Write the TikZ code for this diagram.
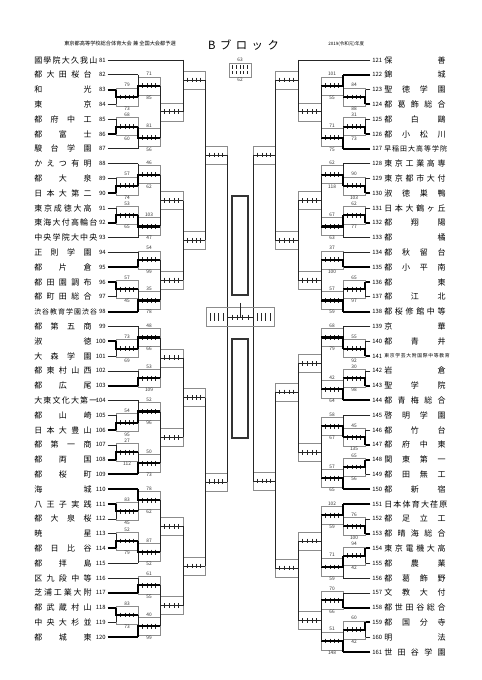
\documentclass[tikz,border=0pt]{standalone}
\usepackage{fontspec}
\setmainfont{Noto Sans CJK JP}
\pgfmathdeclarefunction{rowl}{1}{\pgfmathparse{60+(#1-81)*14.8}}
\pgfmathdeclarefunction{rowr}{1}{\pgfmathparse{60+(#1-121)*14.8}}
\tikzset{
  line/.style={draw=black!85, line width=0.45pt},
  frame/.style={draw=black!45, line width=0.4pt},
  win/.style={draw=black, line width=1.6pt},
  lab/.style={font=\fontsize{3.6}{4}\selectfont, inner sep=0.5pt, text=black!80},
  num/.style={font=\fontsize{4.4}{5}\selectfont, inner sep=0pt},
  tname/.style={inner sep=0pt},
}
\newcounter{nn}
\def\nextmid{}
\newcommand\setmid[1]{\gdef\nextmid{#1}}
\newcommand\M[1]{\csname ym@#1\endcsname}
\newcommand\mtch[8]{%
  \pgfmathsetmacro\tya{#4}%
  \pgfmathsetmacro\tyb{#5}%
  \ifx\nextmid\empty\pgfmathsetmacro\tym{(\tya+\tyb)/2}\else\pgfmathsetmacro\tym{\nextmid}\fi
  \gdef\nextmid{}%
  \expandafter\xdef\csname ym@#1\endcsname{\tym}%
  \draw[frame] (#2,\tym-9) rectangle (#3,\tym+9);
  \draw[line] (#2,\tya) -- (#2,\tyb);
  \draw[line] (#2,\tym) -- (#3,\tym);
  \foreach \k in {1,2,3,4}{\draw[line] ({#2+\k*(#3-#2)/5},\tym-2.4) -- ({#2+\k*(#3-#2)/5},\tym+2.4);}
  \ifcase#6\relax\or\draw[win] (#2,\tya) -- (#2,\tym) -- (#3,\tym);\or\draw[win] (#2,\tyb) -- (#2,\tym) -- (#3,\tym);\fi
  \stepcounter{nn}\node[lab,anchor=south] (n\arabic{nn}) at ({(#2+#3)/2},\tym-9) {#7};
  \stepcounter{nn}\node[lab,anchor=north] (n\arabic{nn}) at ({(#2+#3)/2},\tym+9) {#8};
}
\newcommand\teamL[5]{%
  \pgfmathsetmacro\ty{rowl(#1)}%
  \node[tname,anchor=west,font=\fontsize{#5}{#5}\selectfont] (tL#1) at (34,\ty) {\makebox[43pt][s]{#2}};
  \node[num,anchor=east] (nL#1) at (106,\ty) {#1};
  \ifnum#4=1 \draw[win] ([xshift=1.2pt]nL#1.east) -- (#3,\ty);\else\draw[line] ([xshift=1.2pt]nL#1.east) -- (#3,\ty);\fi
}
\newcommand\teamR[5]{%
  \pgfmathsetmacro\ty{rowr(#1)}%
  \node[tname,anchor=west,font=\fontsize{#5}{#5}\selectfont] (tR#1) at (384,\ty) {\makebox[46pt][s]{#2}};
  \node[num,anchor=west] (nR#1) at (372,\ty) {#1};
  \ifnum#4=1 \draw[win] ([xshift=-1.2pt]nR#1.west) -- (#3,\ty);\else\draw[line] ([xshift=-1.2pt]nR#1.west) -- (#3,\ty);\fi
}
\begin{document}
\begin{tikzpicture}[x=0.75pt,y=-0.75pt]
\fill[white] (0,0) rectangle (481,680);
\useasboundingbox (0,0) rectangle (481,680);
% header
\node[font=\fontsize{3.9}{4.5}\selectfont, anchor=west, inner sep=0pt] (h1) at (64,44) {東京都高等学校総合体育大会 兼 全国大会都予選};
\node[font=\fontsize{8.5}{9}\selectfont, inner sep=0pt] (h2) at (243.5,45) {\makebox[53pt][s]{B ブ ロ ッ ク}};
\node[font=\fontsize{3.4}{4}\selectfont, anchor=west, inner sep=0pt] (h3) at (328,44) {2019(令和元)年度};
% legend
\draw[frame] (229,63) rectangle (251,77);
\foreach \k in {1,...,5}{\draw[line] ({229+\k*22/6},65.5) -- ({229+\k*22/6},69); \draw[line] ({229+\k*22/6},71) -- ({229+\k*22/6},74.5);}
\node[lab,anchor=south] (lg1) at (240,63) {63};
\node[lab,anchor=north] (lg2) at (240,77) {62};
% left teams
\teamL{81}{國 學 院 大 久 我 山}{183}{0}{6}
\teamL{82}{都 大 田 桜 台}{138}{0}{6}
\teamL{83}{和 光}{116}{1}{6}
\teamL{84}{東 京}{116}{0}{6}
\teamL{85}{都 府 中 工}{116}{0}{6}
\teamL{86}{都 富 士}{116}{1}{6}
\teamL{87}{駿 台 学 園}{138}{0}{6}
\teamL{88}{か え つ 有 明}{138}{0}{6}
\teamL{89}{都 大 泉}{116}{0}{6}
\teamL{90}{日 本 大 第 二}{116}{1}{6}
\teamL{91}{東 京 成 徳 大 高}{116}{0}{6}
\teamL{92}{東 海 大 付 高 輪 台}{116}{1}{6}
\teamL{93}{中 央 学 院 大 中 央}{138}{0}{6}
\teamL{94}{正 則 学 園}{138}{0}{6}
\teamL{95}{都 片 倉}{138}{1}{6}
\teamL{96}{都 田 園 調 布}{116}{1}{6}
\teamL{97}{都 町 田 総 合}{116}{0}{6}
\teamL{98}{渋 谷 教 育 学 園 渋 谷}{138}{1}{5.2}
\teamL{99}{都 第 五 商}{138}{0}{6}
\teamL{100}{淑 徳}{116}{1}{6}
\teamL{101}{大 森 学 園}{116}{0}{6}
\teamL{102}{都 東 村 山 西}{138}{0}{6}
\teamL{103}{都 広 尾}{138}{1}{6}
\teamL{104}{大 東 文 化 大 第 一}{138}{0}{6}
\teamL{105}{都 山 崎}{116}{0}{6}
\teamL{106}{日 本 大 豊 山}{116}{1}{6}
\teamL{107}{都 第 一 商}{116}{0}{6}
\teamL{108}{都 両 国}{116}{1}{6}
\teamL{109}{都 桜 町}{138}{1}{6}
\teamL{110}{海 城}{138}{1}{6}
\teamL{111}{八 王 子 実 践}{116}{1}{6}
\teamL{112}{都 大 泉 桜}{116}{0}{6}
\teamL{113}{暁 星}{116}{0}{6}
\teamL{114}{都 日 比 谷}{116}{1}{6}
\teamL{115}{都 拝 島}{138}{0}{6}
\teamL{116}{区 九 段 中 等}{138}{0}{6}
\teamL{117}{芝 浦 工 業 大 附}{138}{1}{6}
\teamL{118}{都 武 蔵 村 山}{116}{1}{6}
\teamL{119}{中 央 大 杉 並}{116}{0}{6}
\teamL{120}{都 城 東}{138}{1}{6}
% right teams
\teamR{121}{保 善}{298}{0}{6}
\teamR{122}{錦 城}{343}{1}{6}
\teamR{123}{聖 徳 学 園}{365}{0}{6}
\teamR{124}{都 葛 飾 総 合}{365}{1}{6}
\teamR{125}{都 白 鷗}{365}{0}{6}
\teamR{126}{都 小 松 川}{365}{1}{6}
\teamR{127}{早 稲 田 大 高 等 学 院}{343}{1}{5.2}
\teamR{128}{東 京 工 業 高 専}{343}{0}{6}
\teamR{129}{東 京 都 市 大 付}{365}{0}{6}
\teamR{130}{淑 徳 巣 鴨}{365}{1}{6}
\teamR{131}{日 本 大 鶴 ヶ 丘}{365}{0}{6}
\teamR{132}{都 翔 陽}{365}{1}{6}
\teamR{133}{都 橘}{343}{0}{6}
\teamR{134}{都 秋 留 台}{343}{0}{6}
\teamR{135}{都 小 平 南}{343}{1}{6}
\teamR{136}{都 東}{365}{1}{6}
\teamR{137}{都 江 北}{365}{0}{6}
\teamR{138}{都 桜 修 館 中 等}{343}{1}{6}
\teamR{139}{京 華}{343}{0}{6}
\teamR{140}{都 青 井}{365}{0}{6}
\teamR{141}{東 京 学 芸 大 附 国 際 中 等 教 育}{365}{1}{3.6}
\teamR{142}{岩 倉}{365}{0}{6}
\teamR{143}{聖 学 院}{365}{1}{6}
\teamR{144}{都 青 梅 総 合}{343}{1}{6}
\teamR{145}{啓 明 学 園}{343}{0}{6}
\teamR{146}{都 竹 台}{365}{0}{6}
\teamR{147}{都 府 中 東}{365}{1}{6}
\teamR{148}{関 東 第 一}{365}{1}{6}
\teamR{149}{都 田 無 工}{365}{0}{6}
\teamR{150}{都 新 宿}{343}{1}{6}
\teamR{151}{日 本 体 育 大 荏 原}{343}{1}{6}
\teamR{152}{都 足 立 工}{365}{0}{6}
\teamR{153}{都 晴 海 総 合}{365}{1}{6}
\teamR{154}{東 京 電 機 大 高}{365}{1}{6}
\teamR{155}{都 農 業}{365}{0}{6}
\teamR{156}{都 葛 飾 野}{343}{0}{6}
\teamR{157}{文 教 大 付}{343}{0}{6}
\teamR{158}{都 世 田 谷 総 合}{343}{1}{6}
\teamR{159}{都 国 分 寺}{365}{1}{6}
\teamR{160}{明 法}{365}{0}{6}
\teamR{161}{世 田 谷 学 園}{343}{1}{6}
% left matches
\mtch{la1}{116}{138}{rowl(83)}{rowl(84)}{1}{79}{73}
\mtch{lb1}{138}{160}{rowl(82)}{\M{la1}}{2}{71}{85}
\mtch{la2}{116}{138}{rowl(85)}{rowl(86)}{2}{68}{60}
\mtch{lb2}{138}{160}{\M{la2}}{rowl(87)}{1}{81}{56}
\mtch{lc1}{160}{183}{\M{lb1}}{\M{lb2}}{0}{}{}
\setmid{80}
\mtch{ld1}{183}{205}{rowl(81)}{\M{lc1}}{0}{}{}
\mtch{la3}{116}{138}{rowl(89)}{rowl(90)}{2}{57}{74}
\mtch{lb3}{138}{160}{rowl(88)}{\M{la3}}{2}{46}{62}
\mtch{la4}{116}{138}{rowl(91)}{rowl(92)}{2}{53}{65}
\mtch{lb4}{138}{160}{\M{la4}}{rowl(93)}{1}{103}{47}
\mtch{lc2}{160}{183}{\M{lb3}}{\M{lb4}}{0}{}{}
\mtch{lb5}{138}{160}{rowl(94)}{rowl(95)}{2}{54}{99}
\mtch{la6}{116}{138}{rowl(96)}{rowl(97)}{1}{57}{45}
\mtch{lb6}{138}{160}{\M{la6}}{rowl(98)}{2}{35}{78}
\mtch{lc3}{160}{183}{\M{lb5}}{\M{lb6}}{0}{}{}
\mtch{ld2}{183}{205}{\M{lc2}}{\M{lc3}}{0}{}{}
\setmid{155}
\mtch{le1}{205}{227}{\M{ld1}}{\M{ld2}}{0}{}{}
\mtch{la7}{116}{138}{rowl(100)}{rowl(101)}{1}{73}{69}
\mtch{lb7}{138}{160}{rowl(99)}{\M{la7}}{2}{48}{66}
\mtch{lb8}{138}{160}{rowl(102)}{rowl(103)}{2}{53}{109}
\mtch{lc4}{160}{183}{\M{lb7}}{\M{lb8}}{0}{}{}
\mtch{la9}{116}{138}{rowl(105)}{rowl(106)}{2}{54}{95}
\mtch{lb9}{138}{160}{rowl(104)}{\M{la9}}{2}{52}{96}
\mtch{la10}{116}{138}{rowl(107)}{rowl(108)}{2}{27}{112}
\mtch{lb10}{138}{160}{\M{la10}}{rowl(109)}{2}{50}{73}
\mtch{lc5}{160}{183}{\M{lb9}}{\M{lb10}}{0}{}{}
\mtch{ld3}{183}{205}{\M{lc4}}{\M{lc5}}{0}{}{}
\mtch{la11}{116}{138}{rowl(111)}{rowl(112)}{1}{83}{45}
\mtch{lb11}{138}{160}{rowl(110)}{\M{la11}}{1}{78}{62}
\mtch{la12}{116}{138}{rowl(113)}{rowl(114)}{2}{52}{79}
\mtch{lb12}{138}{160}{\M{la12}}{rowl(115)}{1}{87}{52}
\mtch{lc6}{160}{183}{\M{lb11}}{\M{lb12}}{0}{}{}
\mtch{lb13}{138}{160}{rowl(116)}{rowl(117)}{2}{61}{55}
\mtch{la14}{116}{138}{rowl(118)}{rowl(119)}{1}{83}{73}
\mtch{lb14}{138}{160}{\M{la14}}{rowl(120)}{2}{40}{99}
\mtch{lc7}{160}{183}{\M{lb13}}{\M{lb14}}{0}{}{}
\mtch{ld4}{183}{205}{\M{lc6}}{\M{lc7}}{0}{}{}
\mtch{le2}{205}{227}{\M{ld3}}{\M{ld4}}{0}{}{}
% right matches
\mtch{ra1}{365}{343}{rowr(123)}{rowr(124)}{2}{84}{88}
\mtch{rb1}{343}{321}{rowr(122)}{\M{ra1}}{1}{101}{55}
\mtch{ra2}{365}{343}{rowr(125)}{rowr(126)}{2}{31}{73}
\mtch{rb2}{343}{321}{\M{ra2}}{rowr(127)}{2}{71}{75}
\mtch{rc1}{321}{298}{\M{rb1}}{\M{rb2}}{0}{}{}
\setmid{80}
\mtch{rd1}{298}{275}{rowr(121)}{\M{rc1}}{0}{}{}
\mtch{ra3}{365}{343}{rowr(129)}{rowr(130)}{2}{90}{103}
\mtch{rb3}{343}{321}{rowr(128)}{\M{ra3}}{2}{62}{118}
\mtch{ra4}{365}{343}{rowr(131)}{rowr(132)}{2}{62}{77}
\mtch{rb4}{343}{321}{\M{ra4}}{rowr(133)}{1}{67}{63}
\mtch{rc2}{321}{298}{\M{rb3}}{\M{rb4}}{0}{}{}
\mtch{rb5}{343}{321}{rowr(134)}{rowr(135)}{2}{37}{100}
\mtch{ra6}{365}{343}{rowr(136)}{rowr(137)}{1}{65}{97}
\mtch{rb6}{343}{321}{\M{ra6}}{rowr(138)}{2}{57}{59}
\mtch{rc3}{321}{298}{\M{rb5}}{\M{rb6}}{0}{}{}
\mtch{rd2}{298}{275}{\M{rc2}}{\M{rc3}}{0}{}{}
\setmid{155}
\mtch{re1}{275}{253}{\M{rd1}}{\M{rd2}}{0}{}{}
\mtch{ra7}{365}{343}{rowr(140)}{rowr(141)}{2}{55}{92}
\mtch{rb7}{343}{321}{rowr(139)}{\M{ra7}}{2}{68}{79}
\mtch{ra8}{365}{343}{rowr(142)}{rowr(143)}{2}{30}{98}
\mtch{rb8}{343}{321}{\M{ra8}}{rowr(144)}{2}{42}{64}
\mtch{rc4}{321}{298}{\M{rb7}}{\M{rb8}}{0}{}{}
\mtch{ra9}{365}{343}{rowr(146)}{rowr(147)}{2}{45}{135}
\mtch{rb9}{343}{321}{rowr(145)}{\M{ra9}}{2}{58}{67}
\mtch{ra10}{365}{343}{rowr(148)}{rowr(149)}{1}{65}{56}
\mtch{rb10}{343}{321}{\M{ra10}}{rowr(150)}{2}{57}{65}
\mtch{rc5}{321}{298}{\M{rb9}}{\M{rb10}}{0}{}{}
\setmid{392}
\mtch{rd3}{298}{275}{\M{rc4}}{\M{rc5}}{0}{}{}
\mtch{ra11}{365}{343}{rowr(152)}{rowr(153)}{2}{76}{100}
\mtch{rb11}{343}{321}{rowr(151)}{\M{ra11}}{1}{102}{59}
\mtch{ra12}{365}{343}{rowr(154)}{rowr(155)}{1}{94}{42}
\mtch{rb12}{343}{321}{\M{ra12}}{rowr(156)}{1}{71}{59}
\mtch{rc6}{321}{298}{\M{rb11}}{\M{rb12}}{0}{}{}
\mtch{rb13}{343}{321}{rowr(157)}{rowr(158)}{2}{70}{66}
\mtch{ra14}{365}{343}{rowr(159)}{rowr(160)}{1}{60}{42}
\mtch{rb14}{343}{321}{\M{ra14}}{rowr(161)}{2}{51}{148}
\mtch{rc7}{321}{298}{\M{rb13}}{\M{rb14}}{0}{}{}
\setmid{568}
\mtch{rd4}{298}{275}{\M{rc6}}{\M{rc7}}{0}{}{}
\setmid{481}
\mtch{re2}{275}{253}{\M{rd3}}{\M{rd4}}{0}{}{}
% centre
\draw[line] (227,\M{le1}) -- (227,\M{le2});
\draw[line] (253,\M{re1}) -- (253,\M{re2});
\draw[frame] (206,307.5) rectangle (274,326.5);
\foreach \k in {1,...,4}{
  \draw[line] ({206+\k*21/5},313) -- ({206+\k*21/5},321);
  \draw[line] ({253+\k*21/5},313) -- ({253+\k*21/5},321);
  \draw[line] ({227+\k*26/5},314.5) -- ({227+\k*26/5},319.5);}
\draw[line] (227,317) -- (253,317);
\draw[line] (240,303) -- (240,317);
\draw[draw=black!80, line width=1.1pt] (232,196) rectangle (248,295);
\draw[draw=black!80, line width=1.1pt] (232,339) rectangle (248,438);
\end{tikzpicture}
\end{document}
